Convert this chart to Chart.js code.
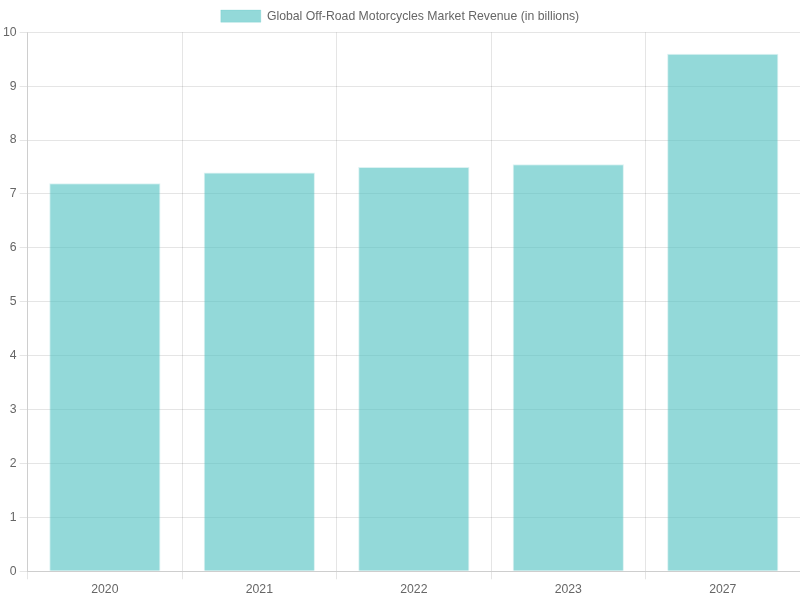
<!DOCTYPE html>
<html>
<head>
<meta charset="utf-8">
<script src="https://cdn.jsdelivr.net/npm/chart.js@4"></script>
<style>
  html, body { margin: 0; padding: 0; background: #fff; }
  #wrap { width: 800px; height: 600px; }
</style>
</head>
<body>
<div id="wrap"><canvas id="revenueChart"></canvas></div>
<script>
const years = ['2020', '2021', '2022', '2023', '2027'];
const revenue = [7.2, 7.4, 7.5, 7.55, 9.6];
const seriesLabel = 'Global Off-Road Motorcycles Market Revenue (in billions)';

Chart.defaults.font.size = 12.25;

const ctx = document.getElementById('revenueChart');

new Chart(ctx, {
  type: 'bar',
  data: {
    labels: years,
    datasets: [
      {
        label: seriesLabel,
        data: revenue,
        backgroundColor: 'rgba(75, 192, 192, 0.6)',
        borderColor: 'rgba(75, 192, 192, 0.2)',
        borderWidth: 1
      }
    ]
  },
  options: {
    responsive: true,
    maintainAspectRatio: false,
    animation: false,
    plugins: {
      legend: {
        position: 'top'
      }
    },
    scales: {
      y: {
        beginAtZero: true,
        max: 10,
        ticks: { stepSize: 1 }
      }
    }
  }
});
</script>
</body>
</html>
